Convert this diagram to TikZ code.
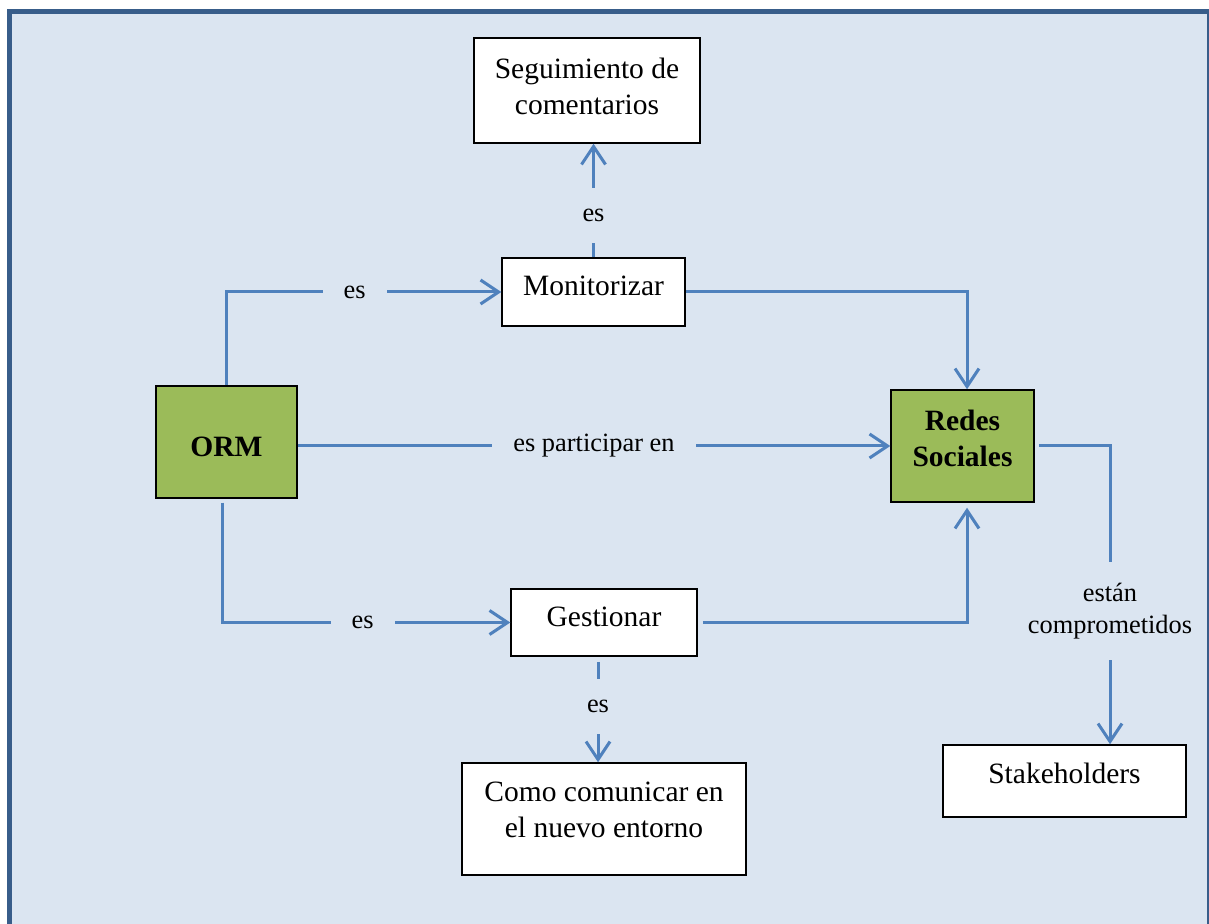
\documentclass[tikz,border=0pt]{standalone}
\usepackage{fontspec}
\setmainfont{Liberation Serif}
\usetikzlibrary{arrows.meta}
\definecolor{bgblue}{HTML}{DBE5F1}
\definecolor{framecol}{HTML}{385D8A}
\definecolor{connblue}{HTML}{4F81BD}
\definecolor{grn}{HTML}{9BBB59}
\begin{document}
\begin{tikzpicture}[x=0.5pt,y=-0.5pt,
 box/.style={draw=black,line width=0.75pt,fill=white,inner sep=0pt},
 gbox/.style={box,fill=grn},
 txt/.style={font=\fontsize{14.75}{18}\selectfont,align=center,inner sep=0pt},
 conn/.style={draw=connblue,line width=1.5pt,-{Straight Barb[length=9pt,width=12pt]}},
 lbl/.style={fill=bgblue,font=\fontsize{13.2}{16}\selectfont,align=center,inner sep=10.5pt,text=black}
]
\useasboundingbox (0,0) rectangle (1209,924);
\clip (0,0) rectangle (1209,924);
\fill[white] (0,0) rectangle (1209,924);
\fill[bgblue] (9.7,11.8) rectangle (1209.5,960);

% boxes
\node[box,minimum width=113pt,minimum height=52.5pt] (seg) at (587,90.5) {};
\node[txt] (segt) at (587,86) {Seguimiento de\\comentarios};
\node[box,minimum width=91.5pt,minimum height=34pt] (mon) at (593.5,292) {};
\node[txt] (mont) at (593.5,286) {Monitorizar};
\node[gbox,minimum width=70.5pt,minimum height=56pt] (orm) at (226.5,442) {};
\node[txt] (ormt) at (226.5,447) {\textbf{ORM}};
\node[gbox,minimum width=71.5pt,minimum height=56pt] (redes) at (962.5,446) {};
\node[txt] (redest) at (962.5,438.5) {\textbf{Redes}\\\textbf{Sociales}};
\node[box,minimum width=93pt,minimum height=33.5pt] (gest) at (604,622.5) {};
\node[txt] (gestt) at (604,617) {Gestionar};
\node[box,minimum width=142pt,minimum height=56pt] (como) at (604,819) {};
\node[txt] (comot) at (604,810) {Como comunicar en\\el nuevo entorno};
\node[box,minimum width=121.5pt,minimum height=36pt] (stake) at (1064.5,781) {};
\node[txt] (staket) at (1064.5,773) {Stakeholders};

% connectors
\draw[conn] (orm.north) |- node[lbl,pos=0.733]{es} (mon.west);
\draw[conn] (mon.north) -- node[lbl,pos=0.37]{es} (mon.north |- seg.south);
\draw[conn] (mon.east) -| ([xshift=2.25pt]redes.north);
\draw[conn] (redes.west -| orm.east) -- node[lbl]{es participar en} (redes.west);
\draw[conn,shorten <=2pt] ([xshift=-2.25pt]orm.south) |- node[lbl,pos=0.744]{es} (gest.west);
\draw[conn,shorten <=2.5pt,shorten >=2.5pt] (gest.east) -| ([xshift=2.25pt]redes.south);
\draw[conn,shorten <=2.5pt] ([xshift=-3pt]gest.south) -- node[lbl,pos=0.47]{es} ([xshift=-3pt]gest.south |- como.north);
\draw[conn,shorten <=2pt] (redes.east) -| node[lbl,pos=0.777]{están\\comprometidos} ([xshift=22.75pt]stake.north);

% frame
\draw[framecol,line width=2.65pt] (9.7,11.8) rectangle (1209.5,960);
\end{tikzpicture}
\end{document}
